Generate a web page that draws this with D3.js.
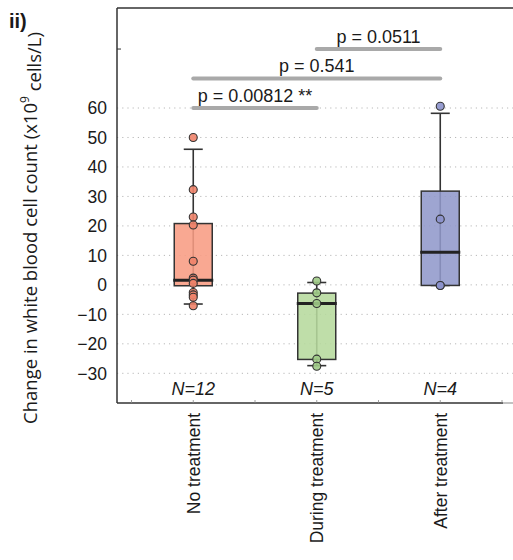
<!DOCTYPE html>
<html><head><meta charset="utf-8">
<script src="https://cdn.jsdelivr.net/npm/d3@7"></script>
<style>body{margin:0;background:#fff}svg{display:block}</style>
</head><body>
<svg id="c" width="513" height="560"></svg>
<script>
const categories = ["No treatment", "During treatment", "After treatment"];
const nLabels = ["N=12", "N=5", "N=4"];
const points = [
  [50, 32.3, 23, 20.3, 8, 2.3, 1.6, 0.5, -2.6, -3.4, -4.2, -7.1],
  [1.3, -2.7, -6.3, -25.2, -27.6],
  [60.6, 22.3, -0.2, -0.2]
];
const boxQ1 = [-0.3, -25.3, -0.2];
const boxMedian = [1.6, -6.3, 11.1];
const boxQ3 = [20.8, -2.8, 31.8];
const whiskerLo = [-6.5, -27.4, -0.2];
const whiskerHi = [46, 0.8, 58.2];
const boxFill = ["#F89C83", "#B6DA9D", "#9198CB"];
const pointFill = ["#F0836A", "#A0CB87", "#8C92CC"];
const yTicks = [60, 50, 40, 30, 20, 10, 0, -10, -20, -30];
const comparisons = [
  {from: 0, to: 1, level: 60, label: "p = 0.00812 **"},
  {from: 0, to: 2, level: 70, label: "p = 0.541"},
  {from: 1, to: 2, level: 80, label: "p = 0.0511"}
];

(function () {
const svg = d3.select("#c");
const pLeft = 117, pRight = 513, pTop = 8, pBottom = 403;
const x = d3.scaleBand().domain(categories).range([131.5, 502]);
const y = d3.scaleLinear().domain([-30, 60]).range([373.3, 108]);
const cx = i => x(categories[i]) + x.bandwidth() / 2;
const F = "'Liberation Sans', Arial, Helvetica, sans-serif";
const FS = 18;

// gridlines
svg.append("g").selectAll("line").data(yTicks).join("line")
  .attr("x1", pLeft).attr("x2", pRight)
  .attr("y1", d => y(d)).attr("y2", d => y(d))
  .attr("stroke", "#b8b8b8").attr("stroke-width", 1).attr("stroke-dasharray", "1.2,4");

// frame
svg.append("line").attr("x1", pLeft).attr("x2", pRight).attr("y1", pTop).attr("y2", pTop).attr("stroke", "#333").attr("stroke-width", 1.5);
svg.append("line").attr("x1", pLeft).attr("x2", pLeft).attr("y1", pTop).attr("y2", pBottom).attr("stroke", "#333").attr("stroke-width", 1.5);
svg.append("line").attr("x1", pLeft).attr("x2", 503).attr("y1", pBottom).attr("y2", pBottom).attr("stroke", "#333").attr("stroke-width", 1.5);
svg.append("line").attr("x1", 503).attr("x2", pRight).attr("y1", pBottom).attr("y2", pBottom).attr("stroke", "#999").attr("stroke-width", 1.2);
svg.append("line").attr("x1", pLeft).attr("x2", pLeft + 4).attr("y1", y(80)).attr("y2", y(80)).attr("stroke", "#333").attr("stroke-width", 1);
const bticks = [];
categories.forEach((c, i) => { bticks.push(x(c)); bticks.push(cx(i)); });
bticks.push(x.range()[1]);
svg.append("g").selectAll("line").data(bticks).join("line")
  .attr("x1", d => d).attr("x2", d => d).attr("y1", pBottom - 3).attr("y2", pBottom)
  .attr("stroke", "#888").attr("stroke-width", 0.8);

// y tick labels
svg.append("g").selectAll("text").data(yTicks).join("text")
  .attr("x", 107).attr("y", d => y(d)).attr("dy", "0.36em")
  .attr("text-anchor", "end").attr("font-family", F).attr("font-size", 17.5).attr("fill", "#1a1a1a")
  .text(d => d < 0 ? "\u2212" + Math.abs(d) : d);

// boxes
const g = svg.append("g");
categories.forEach((c, i) => {
  const xc = cx(i), bw = 38, cap = 19;
  g.append("line").attr("x1", xc).attr("x2", xc).attr("y1", y(whiskerLo[i])).attr("y2", y(whiskerHi[i]))
    .attr("stroke", "#333").attr("stroke-width", 1.6);
  g.append("line").attr("x1", xc - cap / 2).attr("x2", xc + cap / 2).attr("y1", y(whiskerHi[i])).attr("y2", y(whiskerHi[i]))
    .attr("stroke", "#333").attr("stroke-width", 1.6);
  g.append("line").attr("x1", xc - cap / 2).attr("x2", xc + cap / 2).attr("y1", y(whiskerLo[i])).attr("y2", y(whiskerLo[i]))
    .attr("stroke", "#333").attr("stroke-width", 1.6);
  g.append("rect").attr("x", xc - bw / 2).attr("width", bw)
    .attr("y", y(boxQ3[i])).attr("height", y(boxQ1[i]) - y(boxQ3[i]))
    .attr("fill", boxFill[i]).attr("fill-opacity", 0.88).attr("stroke", "#333").attr("stroke-width", 1.5);
  g.append("line").attr("x1", xc - bw / 2 - 1).attr("x2", xc + bw / 2 + 1).attr("y1", y(boxMedian[i])).attr("y2", y(boxMedian[i]))
    .attr("stroke", "#222").attr("stroke-width", 3);
  g.append("g").selectAll("circle").data(points[i]).join("circle")
    .attr("cx", xc).attr("cy", d => y(d)).attr("r", 4)
    .attr("fill", pointFill[i]).attr("fill-opacity", 0.9).attr("stroke", "#333").attr("stroke-width", 1.1);
  svg.append("text").attr("x", xc).attr("y", 395).attr("text-anchor", "middle")
    .attr("font-family", F).attr("font-style", "italic").attr("font-size", FS).attr("fill", "#1a1a1a")
    .text(nLabels[i]);
  svg.append("text").attr("transform", `translate(${xc},413) rotate(-90)`)
    .attr("text-anchor", "end").attr("dy", "0.36em")
    .attr("font-family", F).attr("font-size", 17.5).attr("fill", "#1a1a1a").text(c);
});

// comparisons
comparisons.forEach(cmp => {
  const x1 = cx(cmp.from), x2 = cx(cmp.to), yy = y(cmp.level);
  svg.append("line").attr("x1", x1).attr("x2", x2).attr("y1", yy).attr("y2", yy)
    .attr("stroke", "#a9a9a9").attr("stroke-width", 4).attr("stroke-linecap", "round");
  svg.append("text").attr("x", (x1 + x2) / 2).attr("y", yy - 6.5).attr("text-anchor", "middle")
    .attr("font-family", F).attr("font-size", FS).attr("fill", "#1a1a1a").text(cmp.label);
});

// y label
const yl = svg.append("text").attr("transform", "translate(30,228) rotate(-90)")
  .attr("text-anchor", "middle").attr("dy", "0.36em")
  .attr("font-family", "'Open Sans', 'Noto Sans', sans-serif").attr("font-size", 18.5).attr("fill", "#1a1a1a");
yl.append("tspan").text("Change in white blood cell count (x10");
yl.append("tspan").attr("font-size", 12).attr("dy", "-0.6em").text("9");
yl.append("tspan").attr("dy", "0.6em").text(" cells/L)");

// panel label
svg.append("text").attr("x", 9).attr("y", 28).attr("font-family", F).attr("font-weight", "bold")
  .attr("font-size", 20).attr("fill", "#1a1a1a").text("ii)");
})();
</script>
</body></html>
